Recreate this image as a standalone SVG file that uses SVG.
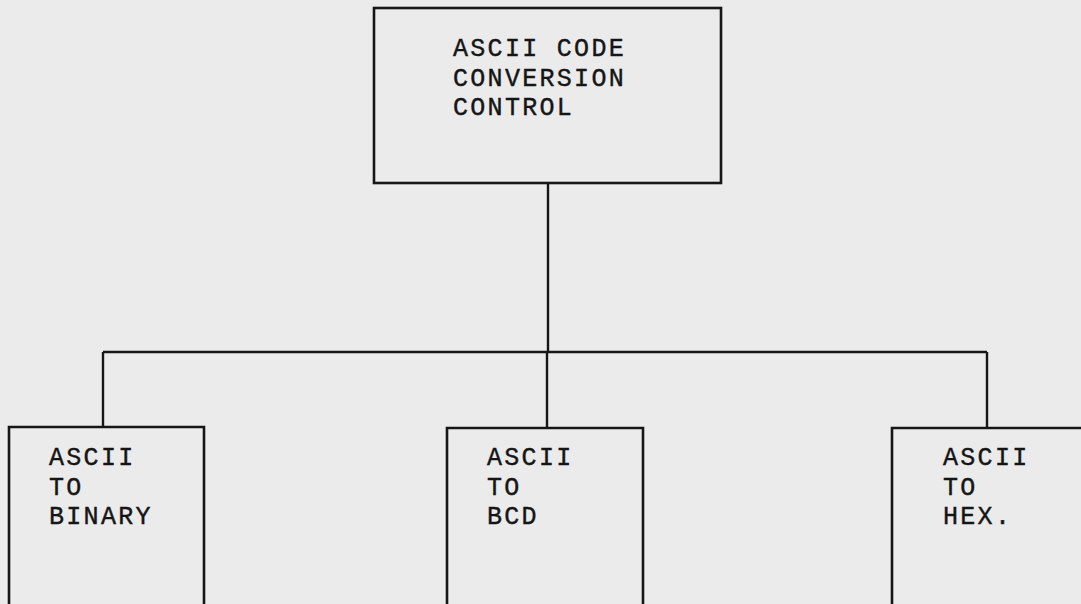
<svg xmlns="http://www.w3.org/2000/svg" width="1081" height="604" viewBox="0 0 1081 604">
<style>
.box{fill:none;stroke:#161616;stroke-width:2.6}
.con{fill:none;stroke:#161616;stroke-width:2.4}
.lbl{font-family:"Liberation Mono","DejaVu Sans Mono",monospace;font-size:25px;letter-spacing:2.3px;fill:#151515;stroke:#151515;stroke-width:0.4}
</style>
<rect x="0" y="0" width="1081" height="604" fill="#ebebeb"/>
<g id="connectors">
<path class="con" d="M548 183 V352"/>
<path class="con" d="M103 352 H987"/>
<path class="con" d="M103 352 V427"/>
<path class="con" d="M547 352 V428"/>
<path class="con" d="M987 352 V428"/>
</g>
<g id="node-control">
<rect class="box" x="374" y="8" width="347" height="175"/>
<text class="lbl" x="453" y="56">ASCII CODE</text>
<text class="lbl" x="453" y="86">CONVERSION</text>
<text class="lbl" x="453" y="115">CONTROL</text>
</g>
<g id="node-binary">
<path class="box" d="M9 610 V427 H204 V610"/>
<text class="lbl" x="49" y="465">ASCII</text>
<text class="lbl" x="49" y="495">TO</text>
<text class="lbl" x="49" y="524">BINARY</text>
</g>
<g id="node-bcd">
<path class="box" d="M447 610 V428 H643 V610"/>
<text class="lbl" x="487" y="465">ASCII</text>
<text class="lbl" x="487" y="495">TO</text>
<text class="lbl" x="487" y="524">BCD</text>
</g>
<g id="node-hex">
<path class="box" d="M892 610 V428 H1090"/>
<text class="lbl" x="943" y="465">ASCII</text>
<text class="lbl" x="943" y="495">TO</text>
<text class="lbl" x="943" y="524">HEX.</text>
</g>
</svg>
